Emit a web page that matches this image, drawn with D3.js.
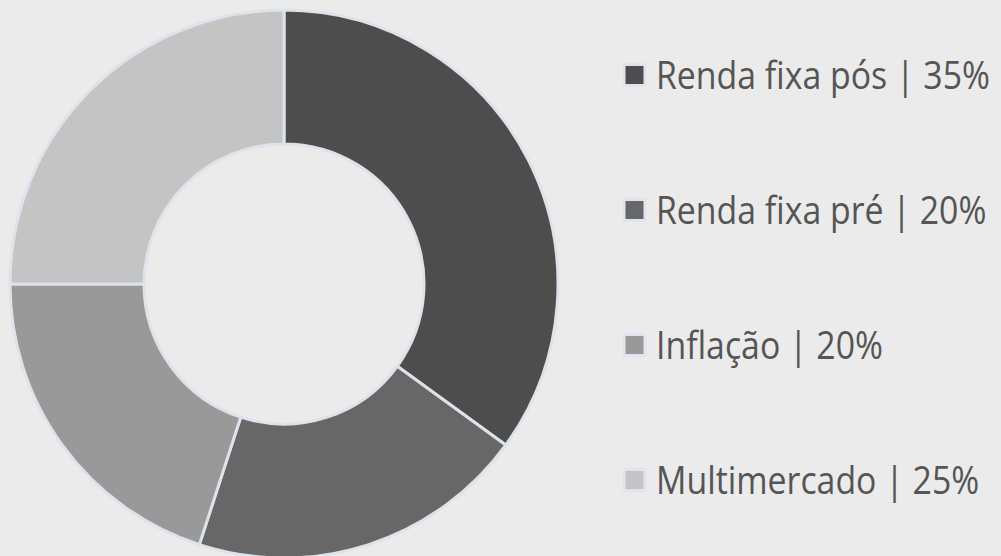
<!DOCTYPE html>
<html>
<head>
<meta charset="utf-8">
<script src="https://cdn.jsdelivr.net/npm/d3@7"></script>
<style>
  html, body { margin: 0; padding: 0; background: #ebebeb; overflow: hidden; }
  svg { display: block; }
</style>
</head>
<body>
<script>
const categories = ["Renda fixa pós", "Renda fixa pré", "Inflação", "Multimercado"];
const values = [35, 20, 20, 25];
const colors = ["#4d4d4d", "#676767", "#999999", "#c4c4c4"];

const width = 1001, height = 556;
const cx = 284, cy = 284, outerR = 274, innerR = 140;

const svg = d3.select("body").append("svg")
    .attr("width", width)
    .attr("height", height);

svg.append("rect").attr("width", width).attr("height", height).attr("fill", "#ebebeb");

const data = categories.map((c, i) => ({name: c, value: values[i], color: colors[i]}));

const pie = d3.pie().value(d => d.value).sort(null);
const arc = d3.arc().innerRadius(innerR).outerRadius(outerR);

svg.append("g")
    .attr("transform", `translate(${cx},${cy})`)
    .selectAll("path")
    .data(pie(data))
    .join("path")
    .attr("d", arc)
    .attr("fill", d => d.data.color)
    .attr("stroke", "#dde3eb")
    .attr("stroke-width", 3)
    .attr("stroke-linejoin", "round");

// legend
const legendY = d3.scalePoint().domain(categories).range([75, 480]);

const items = svg.append("g").selectAll("g")
    .data(data)
    .join("g")
    .attr("transform", d => `translate(0,${legendY(d.name)})`);

items.append("rect")
    .attr("x", 624).attr("y", -10.5)
    .attr("width", 21).attr("height", 21)
    .attr("fill", d => d.color)
    .attr("stroke", "#dfe5ee")
    .attr("stroke-width", 3)
    .attr("rx", 1);

const labels = items.append("text")
    .attr("x", 0)
    .attr("dy", "0.36em")
    .attr("font-family", "'Open Sans', sans-serif")
    .attr("font-size", 39)
    .attr("fill", "#555555")
    .text(d => `${d.name} | ${d.value}%`);

// match the narrower typeface of the original by squeezing horizontally
const w0 = labels.nodes()[0].getComputedTextLength();
const k = 334 / w0;
labels.attr("transform", `translate(656,0) scale(${k},1)`);
</script>
</body>
</html>
